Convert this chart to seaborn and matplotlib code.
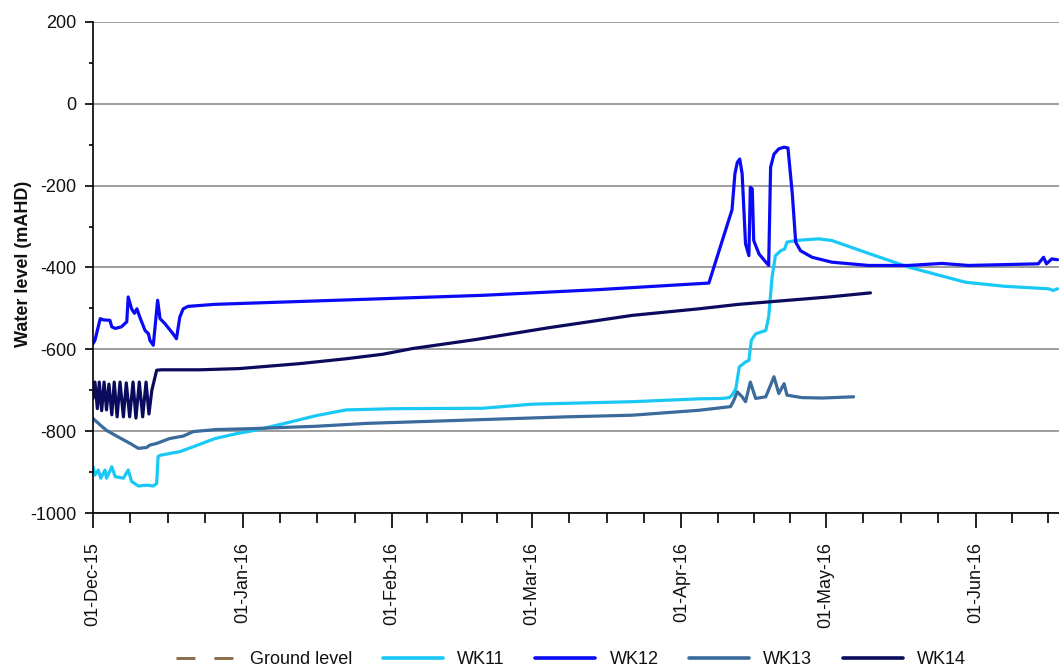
import numpy as np
import pandas as pd
import matplotlib
matplotlib.use('Agg')
import matplotlib.pyplot as plt
import matplotlib.dates as mdates
from matplotlib.ticker import FixedLocator, MultipleLocator
from matplotlib.lines import Line2D
import seaborn as sns

START = pd.Timestamp('2015-12-01')

# days since 01-Dec-15 and water level (mAHD)
wk11_day = [0.0, 0.4, 1.1, 1.6, 2.5, 2.8, 3.9, 4.6, 6.3, 7.3, 8.0, 9.4, 11.1, 12.5, 13.2, 13.5,
            13.9, 18.0, 20.8, 25.3, 29.8, 33.9, 39.4, 46.3, 52.5, 62.9, 80.8, 91.1, 111.8, 125.6,
            130.5, 131.9, 132.5, 133.3, 134.0, 135.3, 136.0, 136.5, 137.4, 139.5, 140.1, 140.8,
            141.5, 142.6, 143.4, 143.9, 145.7, 150.5, 153.2, 160.2, 169.1, 180.9, 189.1, 198.1,
            199.1, 200.0]
wk11_val = [-887, -907, -895, -915, -895, -915, -887, -911, -915, -895, -923, -934, -932, -934, -928, -862,
            -859, -850, -838, -818, -806, -797, -782, -762, -748, -745, -744, -734, -728, -721,
            -720, -718, -712, -696, -643, -631, -627, -578, -562, -554, -521, -424,
            -371, -359, -355, -338, -334, -330, -334, -363, -399, -436, -446, -452,
            -456, -452]

wk12_day = [0.0, 0.4, 1.5, 2.1, 3.5, 3.9, 4.6, 5.9, 6.6, 7.0, 7.3, 8.0, 8.6, 9.1, 9.7, 10.8, 11.5,
            11.8, 12.5, 13.0, 13.4, 13.9, 14.9, 16.6, 17.3, 18.0, 18.7, 19.7, 25.3, 53.2, 80.8,
            104.9, 127.7, 132.5, 133.1, 133.6, 134.1, 134.6, 135.3, 136.0, 136.3, 136.7, 137.0,
            138.1, 140.1, 140.5, 141.2, 142.2, 143.3, 144.1, 145.0, 145.7, 146.7, 149.1, 153.2,
            160.8, 169.1, 176.0, 181.5, 196.0, 197.1, 197.7, 198.8, 200.0]
wk12_val = [-586, -578, -525, -528, -529, -545, -549, -545, -537, -533, -472, -501, -512, -501, -521, -554, -562,
            -578, -590, -529, -480, -525, -537, -562, -574, -521, -501, -495, -490, -479, -468,
            -454, -438, -259, -171, -143, -135, -171, -342, -371, -204, -208, -334,
            -367, -395, -155, -123, -110, -106, -108, -220, -338, -359, -375, -387,
            -395, -395, -390, -395, -391, -375, -391, -379, -381]

wk13_day = [0.0, 1.5, 2.8, 4.9, 7.7, 9.4, 11.1, 11.8, 13.2, 15.9, 18.7, 20.8, 25.6, 32.5, 46.3, 56.7,
            77.4, 98.1, 111.8, 125.6, 132.2, 132.9, 133.6, 134.6, 135.3, 136.3, 137.4, 139.5,
            141.2, 142.2, 143.3, 143.9, 147.0, 151.2, 157.7]
wk13_val = [-769, -785, -798, -812, -830, -842, -840, -834, -830, -818, -812, -801, -796, -794, -788, -781,
            -773, -765, -761, -749, -740, -724, -704, -716, -728, -680, -720, -716,
            -667, -708, -684, -712, -718, -719, -716]

wk14_day = [0.0, 0.4, 0.9, 1.3, 1.8, 2.3, 2.8, 3.3, 3.9, 4.4, 5.0, 5.6, 6.3, 6.9, 7.6, 8.3, 8.9, 9.6,
            10.3, 11.0, 11.6, 12.2, 13.2, 14.2, 22.2, 30.4, 42.8, 52.5, 60.1, 66.3, 79.4, 94.6,
            111.8, 125.6, 133.9, 152.6, 161.2]
wk14_val = [-720, -680, -745, -680, -750, -680, -748, -685, -760, -680, -765, -680, -765, -682, -765, -680, -768, -680,
            -765, -680, -758, -700, -651, -650, -650, -647, -635, -623, -612, -598, -576, -547,
            -517, -501, -490, -472, -462]

bores = ['WK11', 'WK12', 'WK13', 'WK14']
colors = {'WK11': '#19c8f5', 'WK12': '#0a0af5', 'WK13': '#3b6a9c', 'WK14': '#0b0b5e'}
ground_color = '#8a6a4a'

month_starts = pd.date_range('2015-12-01', '2016-07-01', freq='MS')

frames = []
for name, d, v in [('WK11', wk11_day, wk11_val), ('WK12', wk12_day, wk12_val),
                   ('WK13', wk13_day, wk13_val), ('WK14', wk14_day, wk14_val)]:
    frames.append(pd.DataFrame({'date': START + pd.to_timedelta(d, unit='D'),
                                'level': v, 'bore': name}))
df = pd.concat(frames, ignore_index=True)

sns.set_style('white')
plt.rcParams['font.family'] = ['Liberation Sans', 'DejaVu Sans']
plt.rcParams['text.color'] = '#111111'
plt.rcParams['axes.unicode_minus'] = False

fig = plt.figure(figsize=(10.59, 6.71), dpi=100)
ax = fig.add_axes([93 / 1059, 1 - 513 / 671, 1 - 93 / 1059, (513 - 22) / 671])

sns.lineplot(data=df, x='date', y='level', hue='bore', hue_order=bores, palette=colors,
             estimator=None, sort=False, linewidth=2.3, legend=False, ax=ax)

ax.set_ylim(-1000, 200)
ax.set_xlim(START, START + pd.Timedelta(days=200.3))
ax.yaxis.set_major_locator(MultipleLocator(200))
ax.yaxis.set_minor_locator(MultipleLocator(100))

major = [mdates.date2num(m) for m in month_starts[:-1]]
minor = []
for a, b in zip(month_starts[:-1], month_starts[1:]):
    span = (b - a).days
    for k in (1, 2, 3):
        minor.append(mdates.date2num(a + pd.Timedelta(days=span * k / 4)))
ax.xaxis.set_major_locator(FixedLocator(major))
ax.xaxis.set_minor_locator(FixedLocator(minor))
ax.xaxis.set_major_formatter(mdates.DateFormatter('%d-%b-%y'))

ax.grid(True, axis='y', which='major', color='#8c8c8c', linewidth=1.2)
ax.grid(False, axis='x')
ax.set_axisbelow(True)
for s in ['top', 'right']:
    ax.spines[s].set_visible(False)
for s in ['left', 'bottom']:
    ax.spines[s].set_color('black')
    ax.spines[s].set_linewidth(1.2)

ax.tick_params(axis='x', which='major', length=11, width=1.2, direction='out', pad=10,
               labelsize=13, labelrotation=90, colors='black', labelcolor='#111111', bottom=True)
ax.tick_params(axis='x', which='minor', length=7, width=1.2, direction='out', bottom=True, color='black')
ax.tick_params(axis='y', which='major', length=6, width=1.2, direction='out', pad=6,
               labelsize=13, colors='black', labelcolor='#111111', left=True)
ax.tick_params(axis='y', which='minor', length=3.2, width=1.2, direction='out', left=True, color='black')

ax.set_xlabel('')
ax.set_ylabel('Water level (mAHD)', fontsize=13, fontweight='bold', color='#111111')
ax.yaxis.set_label_coords(-0.063, 0.507)

handles = [Line2D([], [], color=ground_color, linewidth=2.1, linestyle=(0, (6.5, 6.5)))]
handles += [Line2D([], [], color=colors[b], linewidth=2.6) for b in bores]
labels = ['Ground level'] + bores
fig.legend(handles, labels, loc='center', bbox_to_anchor=(571 / 1059, 11 / 671), ncol=5,
           frameon=False, handlelength=3.3, handletextpad=0.8, columnspacing=1.7, fontsize=13)

fig.savefig('out.png', dpi=100)
